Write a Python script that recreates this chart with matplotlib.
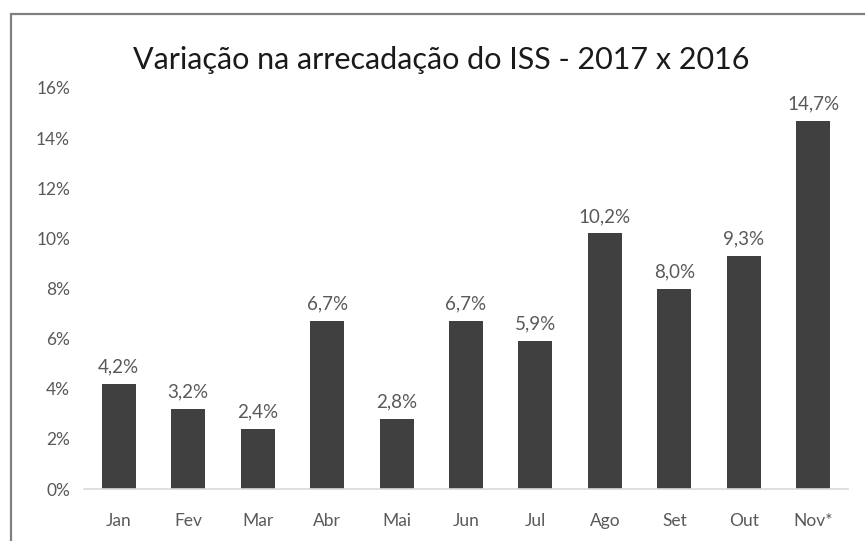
import matplotlib.pyplot as plt
from matplotlib.patches import Rectangle

months = ["Jan", "Fev", "Mar", "Abr", "Mai", "Jun", "Jul", "Ago", "Set", "Out", "Nov*"]
variacao = [4.2, 3.2, 2.4, 6.7, 2.8, 6.7, 5.9, 10.2, 8.0, 9.3, 14.7]
yticks = [0, 2, 4, 6, 8, 10, 12, 14, 16]

plt.rcParams["font.family"] = ["Lato", "DejaVu Sans"]

fig = plt.figure(figsize=(8.65, 5.41), dpi=100)
ax = fig.add_axes([84 / 865, 1 - 489 / 541, (848 - 84) / 865, (489 - 88) / 541])

x = list(range(len(months)))
ax.bar(x, variacao, width=0.49, color="#404040")

for xi, v in zip(x, variacao):
    label = "{:.1f}%".format(v).replace(".", ",")
    ax.annotate(label, (xi, v), xytext=(0, 6), textcoords="offset points",
                ha="center", va="bottom", fontsize=13.5, color="#595959")

ax.set_xlim(-0.5, len(months) - 0.5)
ax.set_ylim(0, 16)
ax.set_yticks(yticks)
ax.set_yticklabels(["{}%".format(t) for t in yticks])
ax.set_xticks(x)
ax.set_xticklabels(months)
ax.tick_params(axis="both", length=0, labelsize=12.5, colors="#595959")
ax.tick_params(axis="x", pad=17)
ax.tick_params(axis="y", pad=10)

for side in ["top", "right", "left"]:
    ax.spines[side].set_visible(False)
ax.spines["bottom"].set_color("#d9d9d9")
ax.spines["bottom"].set_linewidth(1.2)

fig.text(441 / 865, 1 - 60 / 541, "Variação na arrecadação do ISS - 2017 x 2016",
         ha="center", va="center", fontsize=22, color="#1a1a1a")

# outer frame (cropped on right and bottom)
fig.patches.append(Rectangle((11 / 865, -0.1), 1.2, 1.1 - 14 / 541,
                             transform=fig.transFigure, fill=False,
                             edgecolor="#808080", linewidth=1.6))

fig.savefig("out.png", dpi=100)
